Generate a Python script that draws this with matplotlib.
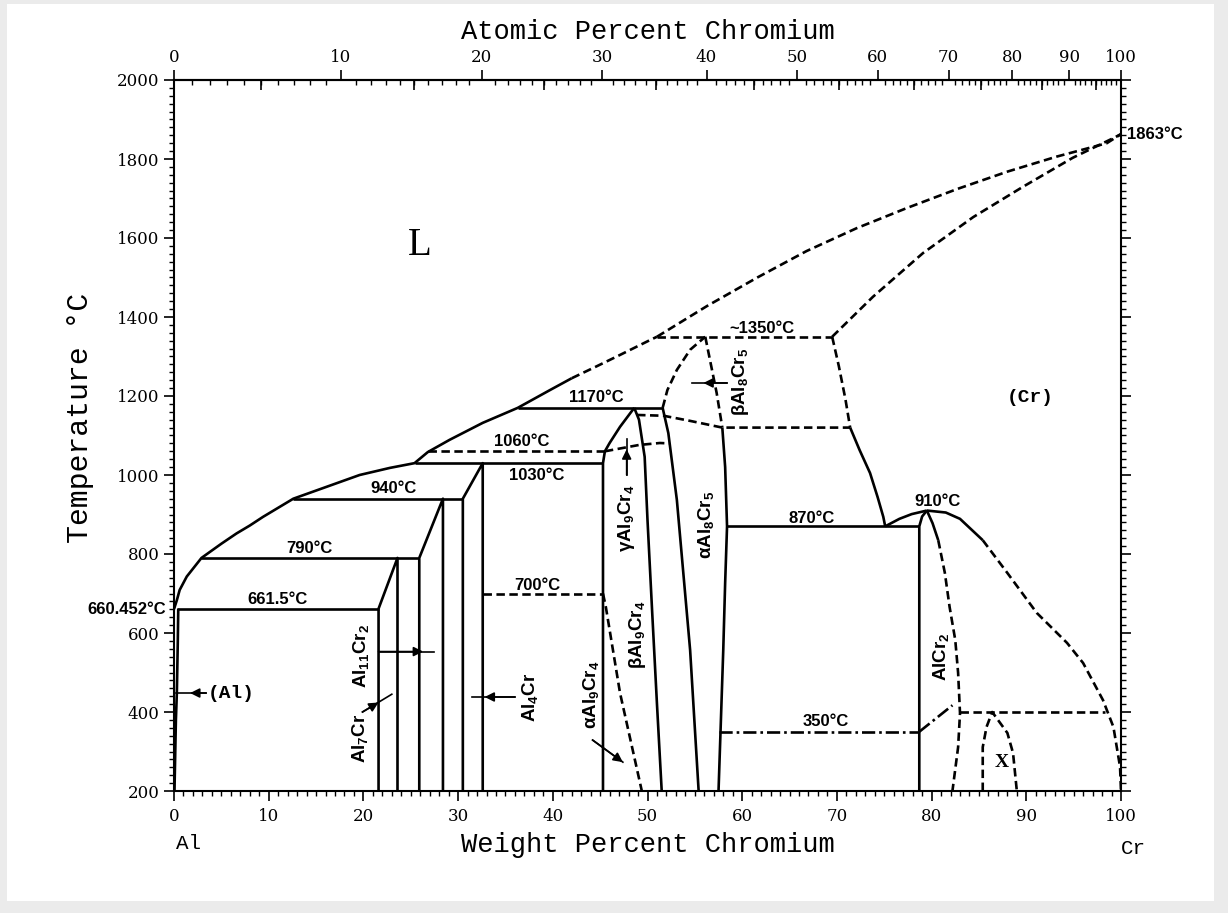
import matplotlib
matplotlib.use('Agg')
import matplotlib.pyplot as plt
import numpy as np
from matplotlib.patches import Rectangle
from matplotlib.ticker import FixedLocator, NullLocator

plt.rcParams['font.family'] = 'DejaVu Serif'
plt.rcParams['mathtext.fontset'] = 'custom'
plt.rcParams['mathtext.rm'] = 'Liberation Sans:bold'
plt.rcParams['mathtext.it'] = 'Liberation Sans:bold'
plt.rcParams['mathtext.bf'] = 'Liberation Sans:bold'

# ---- phase boundaries: weight percent Cr / temperature (deg C) ----
liq_al_wt = [0.0, 0.3, 0.6, 1.35, 2.9, 5.0, 6.6, 8.0, 9.4, 12.6, 16.1, 19.6,
             22.8, 25.4, 26.8, 29.1, 32.6, 36.3, 39.7, 42.0]
liq_al_T = [660.452, 683, 709, 743, 790, 826, 852, 872, 894, 940, 970, 1000,
            1018, 1030, 1058, 1089, 1132, 1170, 1215, 1245]
liq_mid_wt = [42.0, 44.7, 47.1, 50.3, 51.0]
liq_mid_T = [1245, 1276, 1304, 1342, 1350]
liq_cr_wt = [51.0, 56.3, 61.6, 66.8, 72.1, 77.4, 82.7, 88.0, 93.2, 98.5, 100.0]
liq_cr_T = [1350, 1428, 1500, 1567, 1625, 1676, 1724, 1768, 1806, 1840, 1863]
sol_cr_wt = [69.5, 73.8, 79.1, 84.4, 89.6, 94.9, 99.2, 100.0]
sol_cr_T = [1350, 1451, 1562, 1653, 1729, 1803, 1853, 1863]

al_solvus_wt = [0.45, 0.4, 0.3, 0.2, 0.05]
al_solvus_T = [661.5, 577, 448, 380, 200]

al7cr_wt = [21.6, 21.6, 23.6, 23.6]
al7cr_T = [200, 661.5, 790, 200]
al11cr2_wt = [25.9, 25.9, 28.4, 28.4]
al11cr2_T = [200, 790, 940, 200]
al4cr_wt = [30.5, 30.5, 32.6, 32.6]
al4cr_T = [200, 940, 1030, 200]

al9cr4_left_wt = [45.3, 45.3, 45.5, 46.0, 47.1, 48.6]
al9cr4_left_T = [200, 1030, 1060, 1081, 1122, 1170]
al9cr4_right_wt = [48.6, 49.1, 49.7, 50.0, 50.5, 51.0, 51.5]
al9cr4_right_T = [1170, 1140, 1046, 886, 650, 420, 200]
al9cr4_ab_wt = [45.3, 45.6, 47.1, 49.4]
al9cr4_ab_T = [700, 666, 448, 200]
al9cr4_bg_wt = [45.5, 47.3, 49.1, 51.3, 52.3]
al9cr4_bg_T = [1060, 1068, 1076, 1081, 1080]
upper_dash_wt = [48.9, 51.7, 54.5, 57.9, 71.4]
upper_dash_T = [1152, 1150, 1137, 1120, 1120]

al8cr5_left_wt = [51.6, 52.2, 53.1, 54.5, 55.4]
al8cr5_left_T = [1170, 1106, 937, 557, 200]
al8cr5_left_hi_wt = [51.6, 52.1, 53.1, 54.5, 56.1]
al8cr5_left_hi_T = [1170, 1215, 1266, 1317, 1350]
al8cr5_right_hi_wt = [56.1, 56.6, 57.3, 57.9]
al8cr5_right_hi_T = [1350, 1291, 1208, 1120]
al8cr5_right_wt = [57.9, 58.2, 58.4, 58.2, 58.0, 57.5]
al8cr5_right_T = [1120, 1020, 870, 727, 557, 200]

cr_solvus_hi_wt = [69.5, 70.2, 70.9, 71.4]
cr_solvus_hi_T = [1350, 1276, 1192, 1120]
cr_solvus_wt = [71.4, 72.4, 73.5, 74.3, 74.9, 75.1]
cr_solvus_T = [1120, 1063, 1005, 944, 894, 870]

alcr2_dome_wt = [75.1, 76.6, 77.9, 79.5]
alcr2_dome_T = [870, 889, 901, 910]
alcr2_left_wt = [78.7, 78.7, 79.0, 79.5]
alcr2_left_T = [200, 870, 895, 910]
alcr2_right_wt = [79.5, 80.1, 80.7]
alcr2_right_T = [910, 878, 835]
alcr2_right_lo_wt = [80.7, 81.4, 81.9, 82.5, 82.8, 83.0, 82.8, 82.2]
alcr2_right_lo_T = [835, 752, 666, 582, 499, 397, 311, 200]
cr_lo_wt = [79.5, 81.5, 83.0, 85.4]
cr_lo_T = [910, 905, 889, 835]
cr_lo_dash_wt = [85.4, 88.0, 91.1, 94.3, 96.0, 98.1, 99.2, 99.9, 100.0]
cr_lo_dash_T = [835, 752, 651, 575, 524, 430, 362, 261, 200]
order_wt = [78.7, 82.2]
order_T = [350, 417]
x_dome_wt = [85.4, 85.4, 85.8, 86.4, 88.0, 88.6, 89.0]
x_dome_T = [200, 311, 362, 400, 347, 296, 200]

# invariant lines: (start wt, end wt, temperature)
solid_isotherms = [(0.3, 21.6, 661.5), (2.9, 25.8, 790), (12.6, 30.5, 940),
                   (25.4, 45.3, 1030), (36.3, 51.6, 1170), (58.4, 78.7, 870)]
dashed_isotherms = [(26.8, 45.5, 1060), (32.6, 45.3, 700), (51.0, 69.5, 1350),
                    (83.0, 98.3, 400)]
dashdot_isotherms = [(57.6, 78.7, 350)]

M_AL, M_CR = 26.98, 52.00


def wt_to_at(w):
    w = np.asarray(w, dtype=float)
    with np.errstate(divide='ignore', invalid='ignore'):
        return 100 * (w / M_CR) / (w / M_CR + (100 - w) / M_AL)


def at_to_wt(a):
    a = np.asarray(a, dtype=float)
    with np.errstate(divide='ignore', invalid='ignore'):
        return 100 * a * M_CR / (a * M_CR + (100 - a) * M_AL)


fig = plt.figure(figsize=(12.28, 9.13), dpi=100, facecolor='#ebebeb')
fig.patches.append(Rectangle((7 / 1228, 12 / 913), 1207 / 1228, 897 / 913,
                             transform=fig.transFigure, facecolor='white',
                             edgecolor='none', zorder=-10))
ax = fig.add_axes([174 / 1228, 122 / 913, 947 / 1228, 711 / 913])
ax.set_zorder(1)

LW = 1.9
DASH = (0, (3.2, 1.7))
DASHDOT = (0, (5, 1.5, 1, 1.5))


def solid(x, y):
    ax.plot(x, y, color='black', lw=LW, solid_capstyle='butt',
            solid_joinstyle='round')


def dashed(x, y):
    ax.plot(x, y, color='black', lw=LW, linestyle=DASH)


solid(liq_al_wt, liq_al_T)
dashed(liq_mid_wt, liq_mid_T)
dashed(liq_cr_wt, liq_cr_T)
dashed(sol_cr_wt, sol_cr_T)
solid(al_solvus_wt, al_solvus_T)
solid(al7cr_wt, al7cr_T)
solid(al11cr2_wt, al11cr2_T)
solid(al4cr_wt, al4cr_T)
solid(al9cr4_left_wt, al9cr4_left_T)
solid(al9cr4_right_wt, al9cr4_right_T)
dashed(al9cr4_ab_wt, al9cr4_ab_T)
dashed(al9cr4_bg_wt, al9cr4_bg_T)
dashed(upper_dash_wt, upper_dash_T)
solid(al8cr5_left_wt, al8cr5_left_T)
dashed(al8cr5_left_hi_wt, al8cr5_left_hi_T)
dashed(al8cr5_right_hi_wt, al8cr5_right_hi_T)
solid(al8cr5_right_wt, al8cr5_right_T)
dashed(cr_solvus_hi_wt, cr_solvus_hi_T)
solid(cr_solvus_wt, cr_solvus_T)
solid(alcr2_dome_wt, alcr2_dome_T)
solid(alcr2_left_wt, alcr2_left_T)
solid(alcr2_right_wt, alcr2_right_T)
dashed(alcr2_right_lo_wt, alcr2_right_lo_T)
solid(cr_lo_wt, cr_lo_T)
dashed(cr_lo_dash_wt, cr_lo_dash_T)
ax.plot(order_wt, order_T, color='black', lw=LW, linestyle=DASHDOT)
dashed(x_dome_wt, x_dome_T)

for x0, x1, t in solid_isotherms:
    solid([x0, x1], [t, t])
for x0, x1, t in dashed_isotherms:
    dashed([x0, x1], [t, t])
for x0, x1, t in dashdot_isotherms:
    ax.plot([x0, x1], [t, t], color='black', lw=LW, linestyle=DASHDOT)

# ---- temperature labels ----
tlab = dict(fontfamily='Liberation Sans', fontweight='bold', fontsize=12,
            ha='center', va='center')
ax.text(10.9, 686, '661.5°C', **tlab)
ax.text(14.3, 815, '790°C', **tlab)
ax.text(23.2, 967, '940°C', **tlab)
ax.text(36.7, 1086, '1060°C', **tlab)
ax.text(38.3, 1000, '1030°C', **tlab)
ax.text(44.6, 1195, '1170°C', **tlab)
ax.text(38.4, 719, '700°C', **tlab)
ax.text(62.1, 1372, '~1350°C', **tlab)
ax.text(67.3, 891, '870°C', **tlab)
ax.text(80.6, 932, '910°C', **tlab)
ax.text(68.8, 375, '350°C', **tlab)
ax.text(100.6, 1863, '1863°C', fontfamily='Liberation Sans', fontweight='bold',
        fontsize=12, ha='left', va='center', clip_on=False)
ax.text(-0.8, 660, '660.452°C', fontfamily='Liberation Sans', fontweight='bold',
        fontsize=12, ha='right', va='center', clip_on=False)

# ---- phase labels ----
plab = dict(fontfamily='Liberation Sans', fontweight='bold', fontsize=13.5,
            ha='center', va='center', rotation=90)
ax.text(19.6, 334, 'Al$_7$Cr', **plab)
ax.text(19.7, 542, 'Al$_{11}$Cr$_2$', **plab)
ax.text(37.6, 438, 'Al$_4$Cr', **plab)
ax.text(44.0, 443, 'αAl$_9$Cr$_4$', **plab)
ax.text(48.9, 595, 'βAl$_9$Cr$_4$', **plab)
ax.text(47.8, 891, 'γAl$_9$Cr$_4$', **plab)
ax.text(56.2, 873, 'αAl$_8$Cr$_5$', **plab)
ax.text(59.8, 1235, 'βAl$_8$Cr$_5$', **plab)
ax.text(81.0, 539, 'AlCr$_2$', **plab)

ax.text(26.0, 1582, 'L', fontfamily='Liberation Serif', fontsize=28,
        ha='center', va='center')
ax.text(90.4, 1195, '(Cr)', fontfamily='Liberation Mono', fontweight='bold',
        fontsize=14, ha='center', va='center')
ax.text(3.6, 448, '(Al)', fontfamily='Liberation Mono', fontweight='bold',
        fontsize=14, ha='left', va='center')
ax.text(87.4, 273, 'X', fontfamily='Liberation Serif', fontweight='bold',
        fontsize=14, ha='center', va='center')


def pointer(tail, end, head):
    # straight line tail -> end with a filled head placed at `head`
    ax.plot([tail[0], end[0]], [tail[1], end[1]], color='black', lw=1.2)
    ax.annotate('', xy=head, xytext=tail,
                arrowprops=dict(arrowstyle='-|>', color='black', lw=1.2,
                                mutation_scale=14, shrinkA=0, shrinkB=0))


pointer((3.4, 448), (0.2, 448), (1.7, 448))
pointer((19.9, 400), (23.0, 445), (21.6, 424))
pointer((21.6, 553), (27.5, 553), (26.3, 553))
pointer((36.0, 438), (31.5, 438), (32.8, 438))
pointer((44.2, 329), (47.4, 273), (47.4, 273))
pointer((47.8, 1000), (47.8, 1090), (47.8, 1065))
pointer((58.4, 1233), (54.7, 1233), (55.9, 1233))

# ---- axes ----
ax.set_xlim(0, 100)
ax.set_ylim(200, 2000)
ax.set_xticks(np.arange(0, 101, 10))
ax.xaxis.set_minor_locator(FixedLocator(np.arange(0, 101, 1)))
ax.set_yticks(np.arange(200, 2001, 200))
ax.yaxis.set_minor_locator(FixedLocator(np.arange(200, 2001, 20)))
ax.tick_params(axis='x', which='major', direction='out', length=7, width=1.2,
               labelsize=12, pad=5, top=False)
ax.tick_params(axis='x', which='minor', direction='out', length=3.5, width=1,
               top=False)
ax.tick_params(axis='y', which='major', direction='out', length=7, width=1.2,
               labelsize=12, left=True, right=True, labelright=False)
ax.tick_params(axis='y', which='minor', direction='out', length=3.5, width=1,
               left=True, right=True)
for s in ax.spines.values():
    s.set_linewidth(1.5)

sec = ax.secondary_xaxis('top', functions=(wt_to_at, at_to_wt))
sec.set_xticks(np.arange(0, 101, 10))
sec.xaxis.set_minor_locator(FixedLocator(np.arange(0, 101, 1)))
sec.tick_params(which='major', direction='out', length=7, width=1.2,
                labelsize=12, pad=3)
sec.tick_params(which='minor', direction='in', length=3.5, width=1)
sec.spines['top'].set_linewidth(1.5)

sec5 = ax.secondary_xaxis('top', functions=(wt_to_at, at_to_wt))
sec5.set_xticks(np.arange(5, 100, 10), labels=[])
sec5.xaxis.set_minor_locator(NullLocator())
sec5.tick_params(which='major', direction='in', length=7, width=1.2)
sec5.spines['top'].set_visible(False)

title_font = dict(fontfamily='Liberation Mono', fontsize=19.5)
sec.set_xlabel('Atomic Percent Chromium', labelpad=7, **title_font)
ax.set_xlabel('Weight Percent Chromium', labelpad=5, **title_font)
ax.set_ylabel('Temperature °C', fontfamily='Liberation Mono', fontsize=21.5)
ax.yaxis.set_label_coords(-0.084, 0.525)

fig.text(188 / 1228, 1 - 843 / 913, 'Al', fontfamily='Liberation Mono',
         fontsize=15, ha='center', va='center')
fig.text(1133 / 1228, 1 - 848 / 913, 'Cr', fontfamily='Liberation Mono',
         fontsize=15, ha='center', va='center')

fig.savefig('out.png', dpi=100, facecolor=fig.get_facecolor())
